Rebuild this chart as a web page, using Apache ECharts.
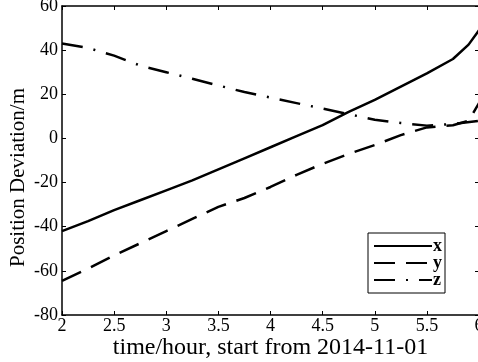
<!DOCTYPE html>
<html>
<head>
<meta charset="utf-8">
<script src="https://cdn.jsdelivr.net/npm/echarts@6/dist/echarts.min.js"></script>
<style>
  html, body { margin: 0; padding: 0; background: #fff; }
  #main { width: 478px; height: 362px; }
</style>
</head>
<body>
<div id="main"></div>
<script>
// time in hours, start from 2014-11-01
const timeX = [2, 2.25, 2.5, 2.75, 3, 3.25, 3.5, 3.75, 4, 4.25, 4.5, 4.75, 5, 5.25, 5.5, 5.75, 5.9, 6];
const devX = [-42, -37.5, -32.5, -28, -23.5, -19, -14, -9, -4, 1, 6, 12, 17.5, 23.5, 29.5, 36, 42.5, 49];

const timeY = [2, 2.25, 2.5, 2.75, 3, 3.25, 3.5, 3.75, 4, 4.25, 4.5, 4.75, 5, 5.25, 5.5, 5.75, 5.9, 6];
const devY = [-64.5, -59, -53, -47.5, -42, -36.5, -31, -27, -22, -16.5, -11.5, -7, -3, 1.5, 5, 6, 8, 16];

const timeZ = [2, 2.25, 2.5, 2.75, 3, 3.25, 3.5, 3.75, 4, 4.25, 4.5, 4.75, 5, 5.25, 5.5, 5.75, 6];
const devZ = [43, 41, 37.5, 33, 30, 27, 24, 21, 18.5, 16, 13.5, 11, 8.5, 7, 5.8, 6.5, 8];

const pairs = (ts, vs) => ts.map((t, i) => [t, vs[i]]);

const font = 'Liberation Serif';
const axisLine = { show: true, onZero: false, lineStyle: { color: '#000', width: 1.5 } };
const tick = { inside: true, length: 4, lineStyle: { color: '#000' } };

const myechart = echarts.init(document.getElementById('main'));
myechart.setOption({
  animation: false,
  grid: { left: 62, right: -1, top: 6, bottom: 47, outerBoundsMode: 'none', containLabel: false },
  xAxis: [{
    type: 'value',
    min: 2,
    max: 6,
    interval: 0.5,
    name: 'time/hour, start from 2014-11-01',
    nameLocation: 'middle',
    nameGap: 21,
    nameMoveOverlap: false,
    nameTextStyle: { fontFamily: font, fontSize: 24, color: '#000' },
    axisLine,
    axisTick: tick,
    axisLabel: { fontFamily: font, fontSize: 18, color: '#000', margin: 2 },
    splitLine: { show: false },
  }, {
    type: 'value',
    position: 'top',
    min: 2,
    max: 6,
    interval: 0.5,
    axisLine,
    axisTick: tick,
    axisLabel: { show: false },
    splitLine: { show: false },
  }],
  yAxis: [{
    type: 'value',
    min: -80,
    max: 60,
    interval: 20,
    name: 'Position Deviation/m',
    nameLocation: 'middle',
    nameGap: 33,
    nameMoveOverlap: false,
    nameTextStyle: { fontFamily: font, fontSize: 21, color: '#000', padding: [0, 34, 0, 0] },
    axisLine,
    axisTick: tick,
    axisLabel: { fontFamily: font, fontSize: 18, color: '#000', margin: 4 },
    splitLine: { show: false },
  }, {
    type: 'value',
    position: 'right',
    min: -80,
    max: 60,
    interval: 20,
    axisLine,
    axisTick: tick,
    axisLabel: { show: false },
    splitLine: { show: false },
  }],
  legend: {
    orient: 'vertical',
    left: 368,
    top: 233,
    padding: [4, 3, 4, 5],
    itemWidth: 58,
    itemHeight: 14,
    itemGap: -1,
    borderColor: '#000',
    borderWidth: 1,
    backgroundColor: '#fff',
    itemStyle: { opacity: 0 },
    textStyle: { fontFamily: font, fontSize: 18, fontWeight: 'bold', color: '#000', padding: [0, 0, 0, -4] },
    data: ['x', 'y', 'z'],
  },
  series: [{
    name: 'x',
    type: 'line',
    symbol: 'none',
    data: pairs(timeX, devX),
    lineStyle: { color: '#000', width: 2.5, type: 'solid' },
    itemStyle: { color: '#000' },
  }, {
    name: 'y',
    type: 'line',
    symbol: 'none',
    data: pairs(timeY, devY),
    lineStyle: { color: '#000', width: 2.5, type: [21, 11] },
    itemStyle: { color: '#000' },
  }, {
    name: 'z',
    type: 'line',
    symbol: 'none',
    data: pairs(timeZ, devZ),
    lineStyle: { color: '#000', width: 2.5, type: [21, 11, 2, 11] },
    itemStyle: { color: '#000' },
  }],
});
</script>
</body>
</html>
